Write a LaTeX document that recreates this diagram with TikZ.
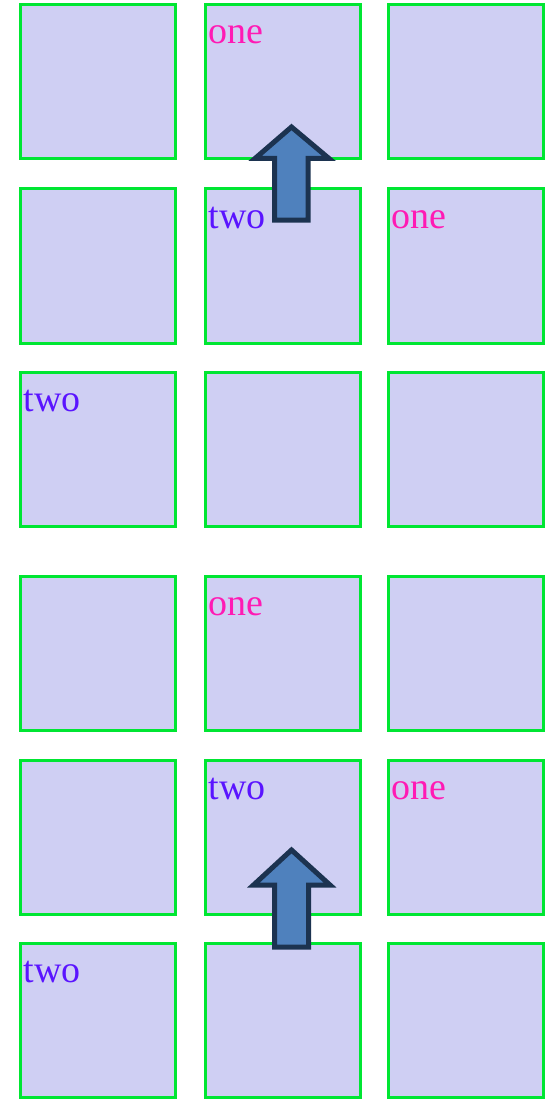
\documentclass[tikz,border=0pt]{standalone}
\usepackage{fontspec}
\setmainfont{Liberation Serif}
\definecolor{boxfill}{HTML}{CFCFF3}
\definecolor{boxline}{HTML}{00E632}
\definecolor{pinktext}{HTML}{FF1AB4}
\definecolor{bluetext}{HTML}{5A14FF}
\definecolor{arrowfill}{HTML}{4F81BD}
\definecolor{arrowline}{HTML}{1C3350}
\begin{document}
\begin{tikzpicture}[x=1pt,y=-1pt,
  cell/.style={draw=boxline, fill=boxfill, line width=3pt, minimum width=155pt, minimum height=154pt, inner sep=0pt, outer sep=0pt, anchor=north west},
  lbl/.style={font=\fontsize{38}{40}\selectfont, inner sep=0pt, anchor=base west},
  pinklbl/.style={lbl, text=pinktext},
  bluelbl/.style={lbl, text=bluetext},
  uparrow/.style={draw=arrowline, fill=arrowfill, line width=5pt, line join=miter}]
\useasboundingbox (0,0) rectangle (552,1102);
% grid 1
\foreach \r/\y in {1/4.8,2/189,3/372}{
  \foreach \c/\x in {1/20.5,2/205.5,3/388.5}{
    \node[cell] (a\r\c) at (\x,\y) {};
  }
}
% grid 2
\foreach \r/\y in {1/576.5,2/760.5,3/943.5}{
  \foreach \c/\x in {1/20.5,2/205.5,3/388.5}{
    \node[cell] (b\r\c) at (\x,\y) {};
  }
}
\node[pinklbl] (la12) at ([xshift=3pt,yshift=-39pt]a12.north west) {one};
\node[bluelbl] (la22) at ([xshift=3pt,yshift=-39pt]a22.north west) {two};
\node[pinklbl] (la23) at ([xshift=3pt,yshift=-39pt]a23.north west) {one};
\node[bluelbl] (la31) at ([xshift=3pt,yshift=-39pt]a31.north west) {two};
\node[pinklbl] (lb12) at ([xshift=3pt,yshift=-39pt]b12.north west) {one};
\node[bluelbl] (lb22) at ([xshift=3pt,yshift=-39pt]b22.north west) {two};
\node[pinklbl] (lb23) at ([xshift=3pt,yshift=-39pt]b23.north west) {one};
\node[bluelbl] (lb31) at ([xshift=3pt,yshift=-39pt]b31.north west) {two};
% arrows
\draw[uparrow] (291.5,127) -- (329,158.5) -- (308,158.5) -- (308,220) -- (274.5,220) -- (274.5,158.5) -- (255,158.5) -- cycle;
\draw[uparrow] (291.5,850) -- (330,885) -- (308.5,885) -- (308.5,947) -- (274.5,947) -- (274.5,885) -- (253.5,885) -- cycle;
\end{tikzpicture}
\end{document}
